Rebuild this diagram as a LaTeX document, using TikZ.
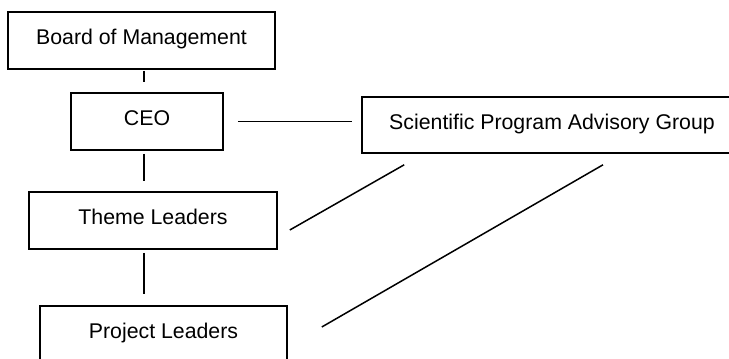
\documentclass[tikz,border=0pt]{standalone}
\usepackage{fontspec}
\setmainfont{Liberation Sans}
\usepackage{tikz}
\usetikzlibrary{calc}

\begin{document}
\begin{tikzpicture}[x=0.5pt, y=-0.5pt, line width=0.75pt]
  \tikzstyle{orgbox}=[draw, line width=0.8pt, inner sep=0pt,
    minimum height=28.5pt, text height=0.72em, text depth=0.3em,
    font=\fontsize{10.65}{12.8}\selectfont]
  \tikzstyle{link}=[line width=0.75pt]

  \useasboundingbox (0,0) rectangle (729,359);
  \clip (0,0) rectangle (729,359);

  \node[orgbox, minimum width=133.5pt] (board) at (141.5,40.5)
    {Board of Management};
  \node[orgbox, minimum width=76pt] (ceo) at (147,121.5) {CEO};
  \node[orgbox, minimum width=124pt] (theme) at (153,220.5)
    {Theme Leaders};
  \node[orgbox, minimum width=123.5pt] (project) at (163.5,334.5)
    {Project Leaders};
  \node[orgbox, minimum width=190pt, minimum height=28pt] (spag)
    at (552,125) {Scientific Program Advisory Group};

  % vertical spine of the chain
  \coordinate (spine) at (144,0);
  \draw[link, shorten <=0.5pt, shorten >=5pt]
    (board.south -| spine) -- (ceo.north -| spine);
  \draw[link, shorten <=1.5pt, shorten >=5pt]
    (ceo.south -| spine) -- (theme.north -| spine);
  \draw[link, shorten <=1.5pt, shorten >=5.5pt]
    (theme.south -| spine) -- (project.north -| spine);

  % links to the advisory group
  \draw[link, shorten <=7pt, shorten >=4.5pt]
    (ceo.east) -- (ceo.east -| spag.west);
  \draw[link] ($(theme.east)+(12,9.5)$) -- ($(spag.south west)+(43,11)$);
  \draw[link] ($(project.east)+(34,-7.5)$) -- ($(spag.south)+(51,11)$);
\end{tikzpicture}
\end{document}
